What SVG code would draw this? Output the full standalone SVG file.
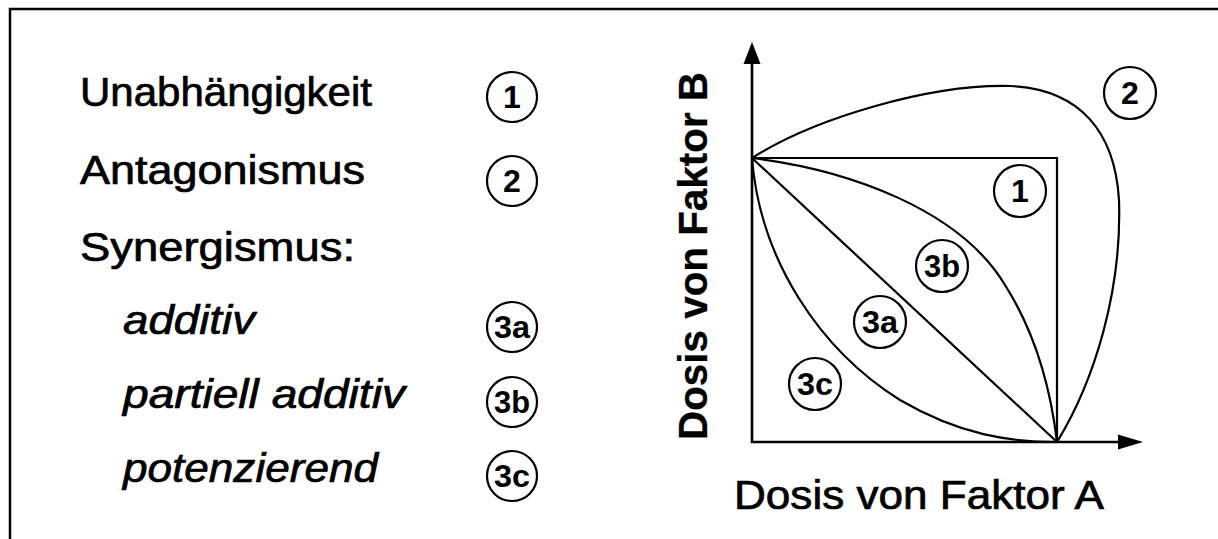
<svg xmlns="http://www.w3.org/2000/svg" width="1218" height="539" viewBox="0 0 1218 539">
<defs>
<style>
.t{font-family:"Liberation Sans",Arial,sans-serif;font-size:40px;fill:#000;stroke:#000;stroke-width:0.7}
.i{font-style:italic}
.b{font-weight:bold;stroke-width:0.3}
.c{fill:#fff;stroke:#000;stroke-width:2.2}
.cl{font-family:"Liberation Sans",Arial,sans-serif;font-size:32px;font-weight:bold;text-anchor:middle;fill:#000}
.ln{fill:none;stroke:#000;stroke-width:2.2}
.ax{fill:none;stroke:#000;stroke-width:2.6}
</style>
</defs>
<rect width="1218" height="539" fill="#fff"/>
<path d="M10,539 V9 H1218" fill="none" stroke="#000" stroke-width="2.5"/>

<g id="legend">
<text class="t" x="80" y="106" textLength="292" lengthAdjust="spacingAndGlyphs">Unabhängigkeit</text>
<text class="t" x="80" y="184" textLength="285" lengthAdjust="spacingAndGlyphs">Antagonismus</text>
<text class="t" x="80" y="261" textLength="275" lengthAdjust="spacingAndGlyphs">Synergismus:</text>
<text class="t i" x="123" y="334" textLength="132" lengthAdjust="spacingAndGlyphs">additiv</text>
<text class="t i" x="123" y="408" textLength="282" lengthAdjust="spacingAndGlyphs">partiell additiv</text>
<text class="t i" x="123" y="482" textLength="255" lengthAdjust="spacingAndGlyphs">potenzierend</text>
</g>

<g id="legend-badges">
<g id="lb1"><circle class="c" cx="512" cy="97" r="25"/><text class="cl" x="512" y="108">1</text></g>
<g id="lb2"><circle class="c" cx="512" cy="181" r="25"/><text class="cl" x="512" y="192">2</text></g>
<g id="lb3a"><circle class="c" cx="512" cy="327" r="25"/><text class="cl" x="512" y="338" textLength="36" lengthAdjust="spacingAndGlyphs">3a</text></g>
<g id="lb3b"><circle class="c" cx="512" cy="402" r="25"/><text class="cl" x="512" y="413" textLength="36" lengthAdjust="spacingAndGlyphs">3b</text></g>
<g id="lb3c"><circle class="c" cx="512" cy="476" r="25"/><text class="cl" x="512" y="487" textLength="36" lengthAdjust="spacingAndGlyphs">3c</text></g>
</g>

<g id="connectors">
<line class="ax" x1="752" y1="443" x2="752" y2="60"/>
<polygon points="752,42 743.5,64 760.5,64" fill="#000"/>
<line class="ax" x1="751" y1="442" x2="1122" y2="442"/>
<polygon points="1143,442 1118,434.5 1118,449.5" fill="#000"/>
<path class="ln" d="M752,158 H1057 V442"/>
<path class="ln" d="M752,158 L1057,442"/>
<path class="ln" d="M752,158 C815,118 930,84 1010,86 C1080,89 1115,132 1119,200 C1122,290 1095,380 1057,442"/>
<path class="ln" d="M752,158 C850,170 960,210 1005,285 C1040,340 1052,400 1057,442"/>
<path class="ln" d="M752,158 C760,260 820,350 900,400 C960,435 1010,442 1057,442"/>
</g>

<g id="plot-badges">
<g id="p1"><circle class="c" cx="1020" cy="191" r="26"/><text class="cl" x="1020" y="202">1</text></g>
<g id="p2"><circle class="c" cx="1130" cy="93" r="26"/><text class="cl" x="1130" y="104">2</text></g>
<g id="p3b"><circle class="c" cx="942" cy="266" r="26"/><text class="cl" x="942" y="277" textLength="36" lengthAdjust="spacingAndGlyphs">3b</text></g>
<g id="p3a"><circle class="c" cx="880" cy="322" r="26"/><text class="cl" x="880" y="333" textLength="36" lengthAdjust="spacingAndGlyphs">3a</text></g>
<g id="p3c"><circle class="c" cx="815" cy="384" r="26"/><text class="cl" x="815" y="395" textLength="36" lengthAdjust="spacingAndGlyphs">3c</text></g>
</g>

<g id="axis-labels">
<text class="t" x="734" y="509" textLength="370" lengthAdjust="spacingAndGlyphs">Dosis von Faktor A</text>
<text class="t b" transform="translate(707,256) rotate(-90)" text-anchor="middle" textLength="368" lengthAdjust="spacingAndGlyphs">Dosis von Faktor B</text>
</g>
</svg>
